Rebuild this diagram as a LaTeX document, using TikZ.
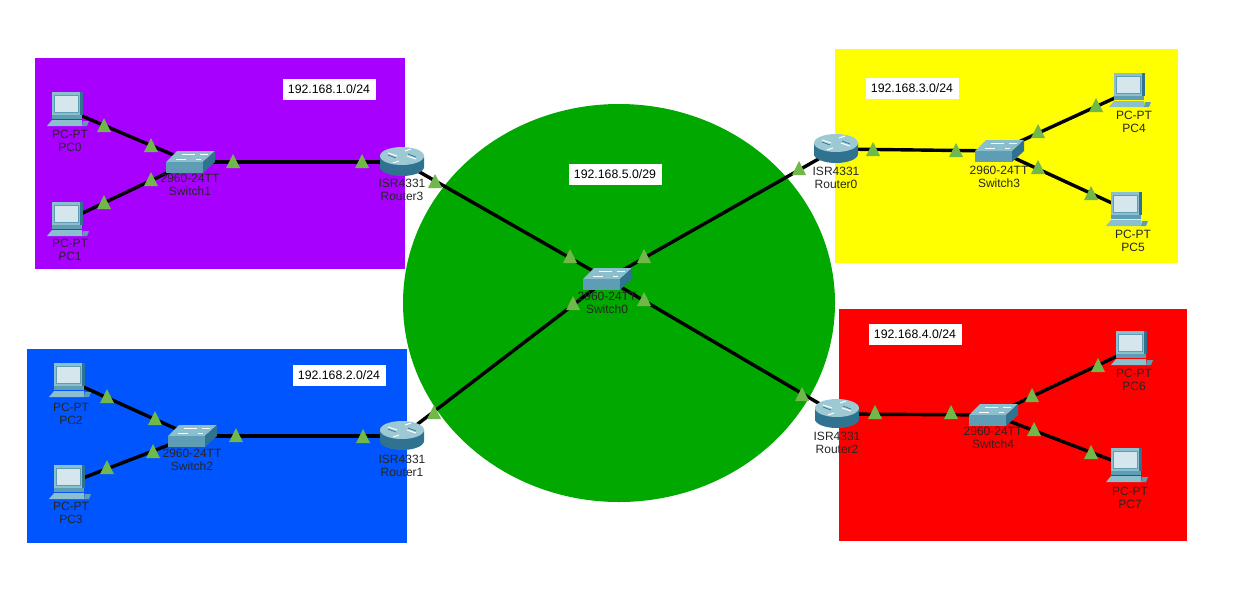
\documentclass[tikz,border=0pt]{standalone}
\usepackage{fontspec}
\setmainfont{Liberation Sans}
\usetikzlibrary{arrows}
\definecolor{zonepurple}{HTML}{A800FF}
\definecolor{zoneblue}{HTML}{0055FF}
\definecolor{zonegreen}{HTML}{00A800}
\definecolor{zoneyellow}{HTML}{FFFF00}
\definecolor{zonered}{HTML}{FF0000}
\definecolor{linkgreen}{HTML}{70B84A}
\definecolor{iconlight}{HTML}{8CBFCE}
\definecolor{iconmid}{HTML}{5F9DB5}
\definecolor{icondark}{HTML}{2F7390}
\definecolor{iconscreen}{HTML}{D5E6EC}
\tikzstyle{device} = [inner sep=0pt, minimum size=0pt, node distance=24pt]
\tikzstyle{wire} = [draw, line width=3.4pt, black]
\tikzstyle{devtext} = [align=center, text=black!85, inner sep=0pt,
    font=\fontsize{12}{13.4}\selectfont]
\tikzstyle{subnet} = [fill=white, inner sep=0pt, minimum width=93pt, minimum height=21pt,
    font=\fontsize{12.3}{13.4}\selectfont]
\tikzset{
  pcicon/.pic={
    \fill [iconlight] (-21,16) -- (-16,10) -- (14,10) -- (14,16) -- cycle;
    \fill [iconmid] (-16,3) rectangle (14,9);
    \fill [iconlight] (-16,-18) -- (15,-18) -- (15,5) -- (-16,5) -- cycle;
    \fill [icondark] (12,-18) -- (15,-18) -- (15,5) -- (12,5) -- cycle;
    \fill [iconscreen, draw=iconmid, line width=1pt] (-14,-15) rectangle (10,2);
    \fill [iconmid] (15,11) -- (21,11) -- (19,16) -- (14,16) -- cycle;
  },
  switchicon/.pic={
    \fill [iconlight] (-13,-11) -- (25,-11) -- (13,0) -- (-24,0) -- cycle;
    \fill [iconmid] (-24,0) rectangle (13,11);
    \fill [icondark] (13,0) -- (25,-11) -- (25,0) -- (13,11) -- cycle;
    \draw [white, line width=.8pt] (-8,-8) -- (5,-8) (10,-8) -- (18,-8)
      (-14,-3) -- (-4,-3) (6,-3) -- (11,-3);
  },
  routericon/.pic={
    \path [left color=icondark, middle color=iconscreen, right color=icondark]
      (-22,-6) -- (-22,5) arc (180:0:22 and 9) -- (22,-6) -- cycle;
    \fill [iconlight!85!white] (0,-6) ellipse (22 and 9);
    \draw [white, line width=1pt] (-14,-9) -- (-5,-6) (14,-3) -- (5,-6)
      (-3,-1) -- (-9,1) (3,-11) -- (9,-13);
    \draw [icondark, line width=.7pt] (-14,-7) -- (-6,-4) (14,-5) -- (6,-8);
  }
}
\begin{document}
\begin{tikzpicture}[x=1pt, y=-1pt]
        \useasboundingbox (0,0) rectangle (1236,595);
        % Draw zones
        \fill [zonepurple] (35,58) rectangle (405,269);
        \fill [zoneblue] (27,349) rectangle (407,543);
        \fill [zoneyellow] (835,49) rectangle (1178,263);
        \fill [zonered] (839,309) rectangle (1187,541);
        \fill [zonegreen] (619,303) ellipse (216 and 199);
        % Place nodes
        \node [device] (pc0) at (68,110) {};
        \node [device] (pc1) at (68,220) {};
        \node [device] (pc2) at (70,381) {};
        \node [device] (pc3) at (70,483) {};
        \node [device] (pc4) at (1130,91) {};
        \node [device] (pc5) at (1127,210) {};
        \node [device] (pc6) at (1132,349) {};
        \node [device] (pc7) at (1127,466) {};
        \node [device] (switch0) at (607,279) {};
        \node [device] (switch1) at (190,162) {};
        \node [device] (switch2) at (192,436) {};
        \node [device] (switch3) at (999,151) {};
        \node [device] (switch4) at (993,415) {};
        \node [device] (router0) at (836,149) {};
        \node [device] (router1) at (402,436) {};
        \node [device] (router2) at (837,414) {};
        \node [device] (router3) at (402,162) {};
        % Draw edges
        \path [wire] (pc0) -- (switch1);
        \path [wire] (pc1) -- (switch1);
        \path [wire] (switch1) -- (router3);
        \path [wire] (router3) -- (switch0);
        \path [wire] (pc2) -- (switch2);
        \path [wire] (pc3) -- (switch2);
        \path [wire] (switch2) -- (router1);
        \path [wire] (router1) -- (switch0);
        \path [wire] (router0) -- (switch0);
        \path [wire] (router0) -- (switch3);
        \path [wire] (switch3) -- (pc4);
        \path [wire] (switch3) -- (pc5);
        \path [wire] (router2) -- (switch0);
        \path [wire] (router2) -- (switch4);
        \path [wire] (switch4) -- (pc6);
        \path [wire] (switch4) -- (pc7);
        % Place icons
        \foreach \dev in {pc0,pc1,pc2,pc3,pc4,pc5,pc6,pc7}
          \pic at (\dev) {pcicon};
        \foreach \dev in {switch0,switch1,switch2,switch3,switch4}
          \pic at (\dev) {switchicon};
        \foreach \dev in {router0,router1,router2,router3}
          \pic at (\dev) {routericon};
        % Link lights
        \foreach \px/\py in {104/125,151/145,151/179,104/202,233/161,362/161,435/181,570/256,
            644/256,799/168,873/149,956/150,1038/131,1096/105,1038/167,1091/193,
            573/303,434/412,644/299,802/394,236/435,363/436,155/418,107/396,153/451,107/467,
            875/412,951/412,1032/395,1098/365,1034/429,1091/452}
          \fill [linkgreen] (\px,\py-7) -- (\px+7,\py+7) -- (\px-7,\py+7) -- cycle;
        % Device labels
        \node [devtext, below of=pc0, node distance=31pt, xshift=2pt] (pc0text) {PC-PT\\PC0};
        \node [devtext, below of=pc1, node distance=30pt, xshift=2pt] (pc1text) {PC-PT\\PC1};
        \node [devtext, below of=pc2, node distance=33pt, xshift=1pt] (pc2text) {PC-PT\\PC2};
        \node [devtext, below of=pc3, node distance=30pt, xshift=1pt] (pc3text) {PC-PT\\PC3};
        \node [devtext, below of=pc4, node distance=31pt, xshift=4pt] (pc4text) {PC-PT\\PC4};
        \node [devtext, below of=pc5, node distance=31pt, xshift=6pt] (pc5text) {PC-PT\\PC5};
        \node [devtext, below of=pc6, node distance=31pt, xshift=2pt] (pc6text) {PC-PT\\PC6};
        \node [devtext, below of=pc7, node distance=32pt, xshift=3pt] (pc7text) {PC-PT\\PC7};
        \node [devtext, below of=switch0, node distance=24pt] (switch0text) {2960-24TT\\Switch0};
        \node [devtext, below of=switch1, node distance=23pt] (switch1text) {2960-24TT\\Switch1};
        \node [devtext, below of=switch2, node distance=24pt] (switch2text) {2960-24TT\\Switch2};
        \node [devtext, below of=switch3, node distance=26pt] (switch3text) {2960-24TT\\Switch3};
        \node [devtext, below of=switch4, node distance=23pt] (switch4text) {2960-24TT\\Switch4};
        \node [devtext, below of=router0, node distance=29pt] (router0text) {ISR4331\\Router0};
        \node [devtext, below of=router1, node distance=30pt] (router1text) {ISR4331\\Router1};
        \node [devtext, below of=router2, node distance=29pt] (router2text) {ISR4331\\Router2};
        \node [devtext, below of=router3, node distance=28pt] (router3text) {ISR4331\\Router3};
        % Subnet labels
        \node [subnet] (net1) at (329,89) {192.168.1.0/24};
        \node [subnet] (net2) at (339,375) {192.168.2.0/24};
        \node [subnet] (net3) at (912,88) {192.168.3.0/24};
        \node [subnet] (net4) at (915,334) {192.168.4.0/24};
        \node [subnet] (net5) at (615,174) {192.168.5.0/29};
    \end{tikzpicture}
\end{document}
